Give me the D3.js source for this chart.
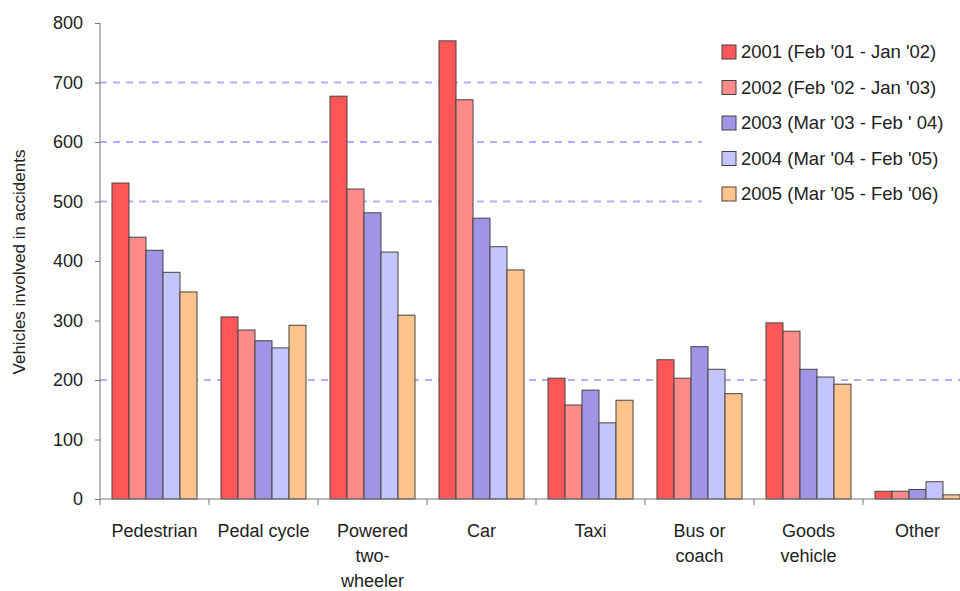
<!DOCTYPE html>
<html><head><meta charset="utf-8">
<script src="https://cdn.jsdelivr.net/npm/d3@7"></script>
<style>body{margin:0;background:#fff}</style>
</head><body>
<svg id="chart" width="960" height="591"></svg>
<script>
const categories = [["Pedestrian"],["Pedal cycle"],["Powered","two-","wheeler"],["Car"],["Taxi"],["Bus or","coach"],["Goods","vehicle"],["Other"]];
const seriesNames = ["2001 (Feb '01 - Jan '02)","2002 (Feb '02 - Jan '03)","2003 (Mar '03 - Feb ' 04)","2004 (Mar '04 - Feb '05)","2005 (Mar '05 - Feb '06)"];
const s2001 = [531, 306, 677, 770, 203, 234, 296, 13];
const s2002 = [440, 284, 521, 671, 158, 203, 282, 13];
const s2003 = [418, 266, 481, 472, 183, 256, 218, 16];
const s2004 = [381, 254, 415, 424, 128, 218, 205, 29];
const s2005 = [348, 292, 309, 385, 166, 177, 193, 7];
const yTicks = [0,100,200,300,400,500,600,700,800];
const gridValues = [200,500,600,700];
const colors = ["#ff5757","#ff8a8a","#9f94e6","#c4c4ff","#ffc48c"];
const series = [s2001,s2002,s2003,s2004,s2005];

const svg = d3.select("#chart");
const font = "'Liberation Sans Narrow','Arial Narrow','Liberation Sans',Arial,sans-serif";
const y = d3.scaleLinear().domain([0,800]).range([499,23]);
const xb = d3.scaleBand().domain(d3.range(categories.length)).range([100,972]);

// gridlines
svg.append("g").selectAll("line").data(gridValues).join("line")
  .attr("x1",100).attr("x2",960).attr("y1",d=>y(d)).attr("y2",d=>y(d))
  .attr("stroke","#b9acff").attr("stroke-width",2).attr("stroke-dasharray","7,6");

// legend background covering gridlines
const lg = svg.append("g");
lg.append("rect").attr("x",702).attr("y",30).attr("width",258).attr("height",186).attr("fill","#fff");

// bars
const groups = svg.append("g").selectAll("g").data(series).join("g").attr("fill",(d,i)=>colors[i]);
groups.each(function(vals,si){
  d3.select(this).selectAll("rect").data(vals).join("rect")
    .attr("x",(d,ci)=>xb(ci)+ (xb.bandwidth()-5*17)/2 + si*17)
    .attr("y",d=>y(d)).attr("width",17).attr("height",d=>y(0)-y(d))
    .attr("stroke","#444").attr("stroke-width",1);
});

// y axis
const ya = svg.append("g").attr("transform","translate(100,0)")
  .call(d3.axisLeft(y).tickValues(yTicks).tickSize(5).tickPadding(12));
ya.select(".domain").attr("stroke","#777").attr("d","M0,23V499");
ya.selectAll(".tick line").attr("stroke","#777");
ya.selectAll("text").attr("font-family","'Liberation Sans',Arial,sans-serif").attr("font-size",18).attr("fill","#222");

// x axis
const xa = svg.append("g").attr("transform","translate(0,499)");
xa.append("line").attr("x1",100).attr("x2",960).attr("stroke","#777");
xa.selectAll(".tk").data(d3.range(categories.length)).join("line").attr("class","tk")
  .attr("x1",d=>xb(d)).attr("x2",d=>xb(d)).attr("y1",0).attr("y2",6).attr("stroke","#777");
const lbl = svg.append("g").selectAll("text").data(categories).join("text")
  .attr("x",(d,i)=>xb(i)+xb.bandwidth()/2).attr("y",537)
  .attr("text-anchor","middle").attr("font-family",font).attr("font-size",18).attr("fill","#222");
lbl.each(function(lines){
  d3.select(this).selectAll("tspan").data(lines).join("tspan")
    .attr("x",d3.select(this).attr("x")).attr("dy",(d,i)=>i?25:0).text(d=>d);
});

// y title
svg.append("text").attr("transform","translate(25,262) rotate(-90)")
  .attr("text-anchor","middle").attr("font-family",font).attr("font-size",17).attr("fill","#222")
  .text("Vehicles involved in accidents");

// legend
const li = lg.selectAll("g").data(seriesNames).join("g")
  .attr("transform",(d,i)=>`translate(722,${52+i*35.5})`);
li.append("rect").attr("x",0).attr("y",-7).attr("width",14).attr("height",14)
  .attr("fill",(d,i)=>colors[i]).attr("stroke","#444");
li.append("text").attr("x",19).attr("y",6).attr("font-family",font).attr("font-size",18.5).attr("fill","#222").text(d=>d);
</script>
</body></html>
